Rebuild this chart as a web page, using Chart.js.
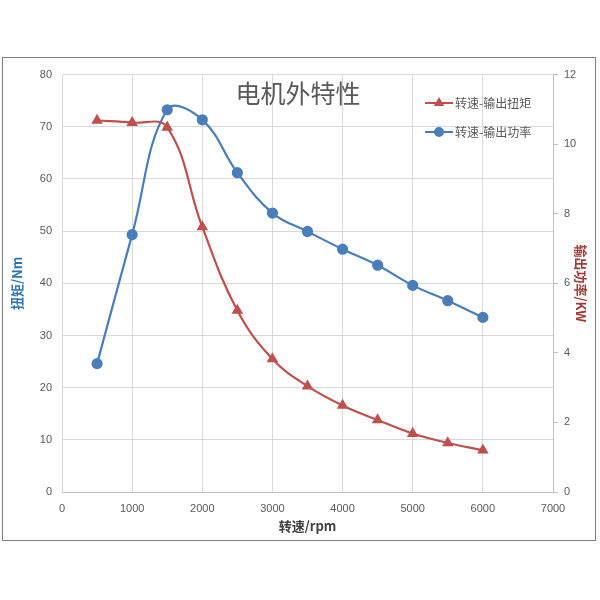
<!DOCTYPE html>
<html>
<head>
<meta charset="utf-8">
<script src="https://cdn.jsdelivr.net/npm/chart.js@4"></script>
<style>
  body { margin: 0; background: #fff; }
  #frame { position: absolute; left: 2px; top: 57px; width: 592px; height: 482px; border: 1px solid #7f7f7f; }
  canvas { display: block; }
</style>
</head>
<body>
<div id="frame"><canvas id="chart" width="592" height="482"></canvas></div>
<script>
const rpm = [500, 1000, 1500, 2000, 2500, 3000, 3500, 4000, 4500, 5000, 5500, 6000];
const torque = [71.2, 70.8, 69.9, 50.8, 34.8, 25.5, 20.3, 16.6, 13.8, 11.2, 9.4, 8.0];
const power = [3.69, 7.40, 10.99, 10.70, 9.18, 8.02, 7.49, 6.98, 6.52, 5.94, 5.50, 5.02];
const seriesNames = ['转速-输出扭矩', '转速-输出功率'];
const chartTitle = '电机外特性';

const red = '#C0504D';
const blue = '#4A7EBB';
const tickFont = { family: 'Liberation Sans, Arial, sans-serif', size: 11 };
const cjk = '"Noto Sans CJK SC", sans-serif';

// title and legend sit inside the plot area, like the Excel original
const overlay = {
  id: 'overlay',
  afterDraw(chart) {
    const ctx = chart.ctx;
    ctx.save();
    ctx.fillStyle = '#595959';
    ctx.font = '25px ' + cjk;
    ctx.textAlign = 'center';
    ctx.textBaseline = 'middle';
    ctx.fillText(chartTitle, 295, 35);

    const items = [
      { text: seriesNames[0], color: red, style: 'triangle', y: 45 },
      { text: seriesNames[1], color: blue, style: 'circle', y: 74 }
    ];
    ctx.font = '12px ' + cjk;
    ctx.textAlign = 'left';
    items.forEach(it => {
      ctx.strokeStyle = it.color;
      ctx.lineWidth = 2;
      ctx.beginPath();
      ctx.moveTo(422, it.y);
      ctx.lineTo(450, it.y);
      ctx.stroke();
      ctx.fillStyle = it.color;
      Chart.helpers.drawPoint(ctx, { pointStyle: it.style, radius: 4, borderWidth: 1 }, 436, it.y);
      ctx.fillStyle = '#595959';
      ctx.fillText(it.text, 452, it.y);
    });
    ctx.restore();
  }
};

new Chart(document.getElementById('chart').getContext('2d'), {
  type: 'line',
  data: {
    datasets: [{
      label: seriesNames[0],
      data: rpm.map((r, i) => ({ x: r, y: torque[i] })),
      yAxisID: 'y',
      borderColor: red,
      backgroundColor: red,
      pointStyle: 'triangle',
      pointRadius: 4.5,
      borderWidth: 2.2,
      tension: 0.4,
      fill: false
    }, {
      label: seriesNames[1],
      data: rpm.map((r, i) => ({ x: r, y: power[i] })),
      yAxisID: 'y1',
      borderColor: blue,
      backgroundColor: blue,
      pointStyle: 'circle',
      pointRadius: 4.5,
      borderWidth: 2.2,
      tension: 0.4,
      fill: false
    }]
  },
  options: {
    responsive: false,
    animation: false,
    layout: { padding: { top: 16, left: 0, right: 0, bottom: 0 } },
    plugins: {
      legend: { display: false },
      tooltip: { enabled: false }
    },
    scales: {
      x: {
        type: 'linear',
        min: 0,
        max: 7000,
        ticks: { stepSize: 1000, color: '#595959', font: tickFont, padding: 10, callback: v => String(v) },
        grid: { color: '#d9d9d9', drawTicks: false },
        border: { color: '#bfbfbf' },
        title: { display: true, text: '转速/rpm', color: '#404040', font: { family: cjk, size: 13, weight: 'bold' }, padding: { top: 0, bottom: 6 } },
        afterFit: s => { s.height = 48; }
      },
      y: {
        position: 'left',
        min: 0,
        max: 80,
        ticks: { stepSize: 10, color: '#595959', font: tickFont, padding: 10 },
        grid: { color: '#d9d9d9', drawTicks: false },
        border: { display: false },
        title: { display: true, text: '扭矩/Nm', color: '#2E75B6', font: { family: cjk, size: 13, weight: 'bold' }, padding: { top: 6, bottom: 4 } },
        afterFit: s => { s.width = 59; }
      },
      y1: {
        position: 'right',
        min: 0,
        max: 12,
        ticks: { stepSize: 2, color: '#595959', font: tickFont, padding: 6 },
        grid: { drawOnChartArea: false, color: '#bfbfbf', tickLength: 5 },
        border: { color: '#bfbfbf' },
        title: { display: true, text: '输出功率/KW', color: '#A23B38', font: { family: cjk, size: 13, weight: 'bold' }, padding: { top: 6, bottom: 6 } },
        afterFit: s => { s.width = 42; }
      }
    }
  },
  plugins: [overlay]
});
</script>
</body>
</html>
